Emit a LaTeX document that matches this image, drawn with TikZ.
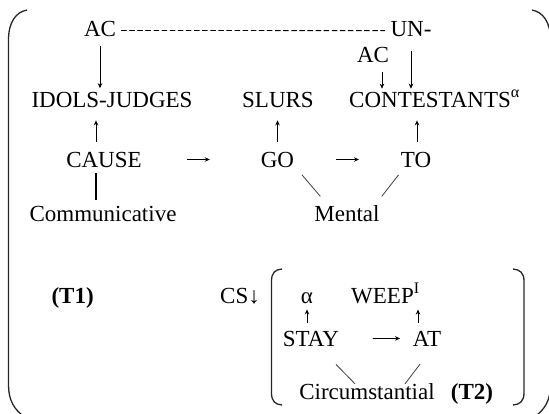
\documentclass[tikz,border=0pt]{standalone}
\usepackage{fontspec}
\setmainfont{Liberation Serif}
\usetikzlibrary{arrows.meta}

\begin{document}
\begin{tikzpicture}[x=1pt, y=-1pt, font=\fontsize{23}{27}\selectfont,
  word/.style={anchor=base, inner sep=1pt},
  arr/.style={-{Stealth[length=5pt, width=4.5pt]}, line width=0.8pt},
  tie/.style={line width=0.8pt, black!75},
  brk/.style={line width=1.3pt, black!85}]

  \useasboundingbox (0,0) rectangle (549,413);
  \clip (0,0) rectangle (549,413);

  \draw[brk] (27,10) .. controls (16,12) and (8.5,22) .. (8.5,40) -- (8.5,385) .. controls (8.5,400) and (14,410) .. (26,418);
  \draw[brk] (532,10) .. controls (543,12) and (550.5,22) .. (550.5,40) -- (550.5,385) .. controls (550.5,400) and (545,410) .. (533,418);

  \node[word] (ac) at (100,36) {AC};
  \node[word] (un) at (411,36) {UN-};
  \node[word] (ac2) at (373,62) {AC};
  \node[word] (idols) at (112,107) {IDOLS-JUDGES};
  \node[word] (slurs) at (278,107) {SLURS};
  \node[word, anchor=base west] (contest) at (348,107) {CONTESTANTS\textsuperscript{α}};
  \node[word] (cause) at (104,167) {CAUSE};
  \node[word] (go) at (277.5,167) {GO};
  \node[word] (to) at (416,167) {TO};
  \node[word] (comm) at (103,221) {Communicative};
  \node[word] (mental) at (347,221) {Mental};

  \draw[dash pattern=on 5.5pt off 2.6pt, line width=0.9pt, shorten <=4pt, shorten >=4.6pt] ([yshift=-2pt]ac.east) -- ([yshift=-2pt]un.west);
  \draw[arr, shorten <=9pt, shorten >=2.4pt] (ac.south) -- (ac.south |- idols.north);
  \draw[arr, shorten <=8.7pt, shorten >=0.5pt] ([xshift=9pt]ac2.south) -- ([xshift=9pt]ac2.south |- contest.north);
  \draw[arr, shorten <=14pt, shorten >=0.5pt] (un.south) -- (un.south |- contest.north);

  \foreach \a/\b/\dx in {cause/idols/-8, go/slurs/0, to/contest/1} {
    \draw[arr, shorten <=9pt, shorten >=12pt] ([xshift=\dx pt]\a.north) -- ([xshift=\dx pt]\a.north |- \b.south);
  }

  \draw[arr, shorten <=44.3pt, shorten >=49.9pt] (cause) -- (go);
  \draw[arr, shorten <=40.9pt, shorten >=40.7pt] (go) -- (to);
  \draw[line width=1.6pt, shorten <=5pt, shorten >=4.4pt] ([xshift=-8pt]cause.south) -- ([xshift=-8pt]cause.south |- comm.north);
  \draw[tie] ([xshift=24.5pt, yshift=-6.5pt]go.south) -- ([xshift=-26.6pt, yshift=7.4pt]mental.north);
  \draw[tie] ([xshift=-17.5pt, yshift=-6.5pt]to.south) -- ([xshift=34.7pt, yshift=7.4pt]mental.north);

  \node[word] (tone) at (72.6,303) {\textbf{(T1)}};
  \node[word] (cs) at (240,303) {CS↓};

  \draw[brk] (282,269) .. controls (275,269.5) and (271.5,273) .. (271.5,281) -- (271.5,393) .. controls (271.5,401) and (275,404.5) .. (282,405);
  \draw[brk] (513,269) .. controls (520,269.5) and (524,273) .. (524,281) -- (524,393) .. controls (524,401) and (520,404.5) .. (513,405);

  \node[word] (alpha) at (307,303) {α};
  \node[word, anchor=base west] (weep) at (350,303) {WEEP\textsuperscript{I}};
  \node[word] (stay) at (311,346) {STAY};
  \node[word] (at) at (427,346) {AT};
  \node[word] (circ) at (367,399) {Circumstantial};
  \node[word] (ttwo) at (472,399) {\textbf{(T2)}};

  \draw[arr, shorten <=7pt, shorten >=5pt] (alpha.south |- stay.north) -- (alpha.south);
  \draw[arr, shorten <=7pt, shorten >=5pt] ([xshift=-9pt]at.north) -- ([xshift=-9pt]at.north |- weep.south);
  \draw[arr, shorten <=32.6pt, shorten >=11.7pt] (stay) -- (at);
  \draw[tie] ([xshift=25pt, yshift=-17pt]stay.south) -- ([xshift=-12pt, yshift=-2pt]circ.north);
  \draw[tie] ([xshift=-7pt, yshift=-17pt]at.south) -- ([xshift=38pt, yshift=-2pt]circ.north);

\end{tikzpicture}
\end{document}
